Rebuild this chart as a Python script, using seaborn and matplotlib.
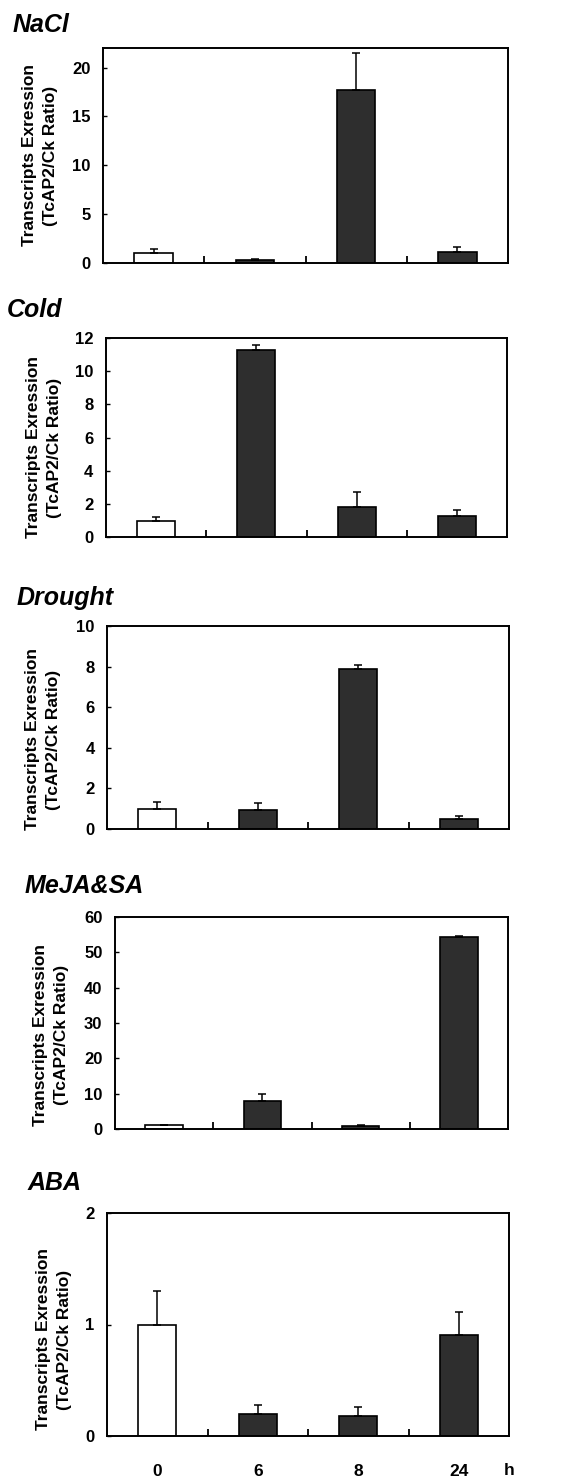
import matplotlib
matplotlib.use("Agg")
import matplotlib.pyplot as plt
import seaborn as sns
import numpy as np
import pandas as pd

hours = ['0', '6', '8', '24']

nacl_mean = [1.0, 0.3, 17.7, 1.15]
nacl_err = [0.45, 0.1, 3.8, 0.45]

cold_mean = [0.97, 11.3, 1.8, 1.25]
cold_err = [0.24, 0.28, 0.9, 0.35]

drought_mean = [0.98, 0.95, 7.88, 0.49]
drought_err = [0.33, 0.35, 0.18, 0.16]

meja_mean = [1.0, 7.9, 0.75, 54.2]
meja_err = [0.2, 2.0, 0.35, 0.4]

aba_mean = [1.0, 0.2, 0.18, 0.91]
aba_err = [0.3, 0.08, 0.08, 0.2]

panels = [
    ('NaCl', nacl_mean, nacl_err, 22, [0, 5, 10, 15, 20]),
    ('Cold', cold_mean, cold_err, 12, [0, 2, 4, 6, 8, 10, 12]),
    ('Drought', drought_mean, drought_err, 10, [0, 2, 4, 6, 8, 10]),
    ('MeJA&SA', meja_mean, meja_err, 60, [0, 10, 20, 30, 40, 50, 60]),
    ('ABA', aba_mean, aba_err, 2, [0, 1, 2]),
]

# pixel layout: (left, right, top, bottom) of each axes box, title pos, ylabel x
W, H = 568, 1477
boxes = [(103, 508, 48, 263), (106, 507, 338, 537), (107, 509, 626, 829),
         (115, 508, 917, 1129), (107, 509, 1213, 1436)]
title_pos = [(13, 32), (7, 317), (17, 605), (25, 893), (28, 1190)]
ylab_x = [40, 44, 43, 51, 54]
ylab_dy = [0, 10, 12, 12, 15]

sns.set_style('white')
plt.rcParams['font.family'] = ['Liberation Sans', 'DejaVu Sans']
plt.rcParams['font.weight'] = 'bold'
plt.rcParams['text.color'] = 'black'
plt.rcParams['xtick.color'] = 'black'
plt.rcParams['ytick.color'] = 'black'

fig = plt.figure(figsize=(W / 100, H / 100), dpi=100)
colors = ['white', '#2e2e2e', '#2e2e2e', '#2e2e2e']

for i, (name, mean, err, ymax, yticks) in enumerate(panels):
    l, r, t, b = boxes[i]
    ax = fig.add_axes([l / W, 1 - b / H, (r - l) / W, (b - t) / H])
    df = pd.DataFrame({'hour': hours, 'value': mean})
    sns.barplot(data=df, x='hour', y='value', hue='hour', palette=colors,
                legend=False, width=0.38, edgecolor='black', linewidth=1.2,
                ax=ax, order=hours)
    ax.errorbar(np.arange(len(hours)), mean, yerr=[np.zeros(len(err)), err],
                fmt='none', ecolor='black', elinewidth=1.1, capsize=3,
                capthick=1.1, zorder=1)
    ax.set_xlim(-0.5, 3.5)
    ax.set_ylim(0, ymax)
    ax.set_yticks(yticks)
    ax.set_yticklabels([str(v) for v in yticks], fontsize=12, fontweight='bold')
    ax.set_xticks([0.5, 1.5, 2.5])
    ax.set_xticklabels([])
    ax.tick_params(axis='x', direction='in', length=5, width=1.3, bottom=True)
    ax.tick_params(axis='y', direction='in', length=3, width=1.0, left=True, pad=9)
    if name == 'ABA':
        ax.set_xticks(range(4), minor=True)
        ax.set_xticklabels(hours, minor=True, fontsize=12.5, fontweight='bold')
        ax.tick_params(axis='x', which='minor', length=0, pad=20)
        ax.text(1.0, -0.155, 'h', transform=ax.transAxes, ha='center', va='center',
                fontsize=12.5, fontweight='bold')
    ax.set_xlabel('')
    ax.set_ylabel('')
    for s in ax.spines.values():
        s.set_linewidth(1.4)
        s.set_color('black')
    fig.text(title_pos[i][0] / W, 1 - title_pos[i][1] / H, name, fontsize=18,
             fontweight='bold', fontstyle='italic', ha='left', va='baseline')
    fig.text(ylab_x[i] / W, 1 - ((t + b) / 2 + ylab_dy[i]) / H,
             'Transcripts Exression\n(TcAP2/Ck Ratio)', rotation=90,
             ha='center', va='center', fontsize=12.5, fontweight='bold',
             linespacing=1.45, multialignment='center')

fig.savefig('out.png', dpi=100, facecolor='white')
